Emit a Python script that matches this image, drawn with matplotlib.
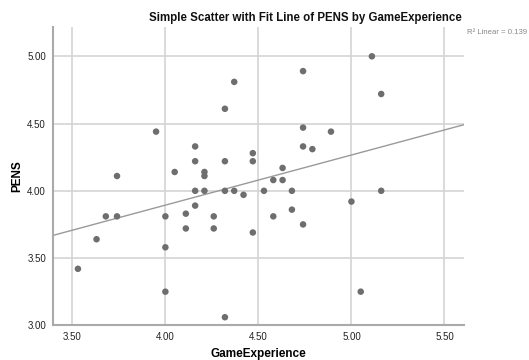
import numpy as np
import matplotlib
matplotlib.use("Agg")
import matplotlib.pyplot as plt

plt.rcParams['font.family'] = ['Liberation Sans', 'DejaVu Sans']

game_experience = [3.95, 4.37, 4.32, 4.74, 5.11, 5.16, 4.74, 4.89, 4.16, 4.74,
                   4.79, 4.47, 4.16, 4.32, 4.47, 4.63, 4.05, 4.21, 4.21, 3.74,
                   4.58, 4.63, 4.16, 4.21, 4.32, 4.37, 4.53, 4.68, 5.16, 4.42,
                   5.00, 4.16, 4.68, 4.11, 3.68, 3.74, 4.00, 4.26, 4.58, 4.74,
                   4.11, 4.26, 4.47, 3.63, 4.00, 3.53, 4.00, 5.05, 4.32]
pens = [4.44, 4.81, 4.61, 4.89, 5.00, 4.72, 4.47, 4.44, 4.33, 4.33,
        4.31, 4.28, 4.22, 4.22, 4.22, 4.17, 4.14, 4.14, 4.11, 4.11,
        4.08, 4.08, 4.00, 4.00, 4.00, 4.00, 4.00, 4.00, 4.00, 3.97,
        3.92, 3.89, 3.86, 3.83, 3.81, 3.81, 3.81, 3.81, 3.81, 3.75,
        3.72, 3.72, 3.69, 3.64, 3.58, 3.42, 3.25, 3.25, 3.06]
x_ticks = [3.50, 4.00, 4.50, 5.00, 5.50]
y_ticks = [3.00, 3.50, 4.00, 4.50, 5.00]
r2_label = "R² Linear = 0.139"

W, H = 529, 360
fig = plt.figure(figsize=(W / 100, H / 100), dpi=100)
ax = fig.add_axes([53 / W, (H - 325.3) / H, (464 - 53) / W, (325.3 - 27) / H])

xlim = (3.396, 5.605)
ylim = (3.0, 5.218)
ax.set_xlim(*xlim)
ax.set_ylim(*ylim)

ax.set_xticks(x_ticks)
ax.set_yticks(y_ticks)
ax.set_xticklabels([f"{v:.2f}" for v in x_ticks])
ax.set_yticklabels([f"{v:.2f}" for v in y_ticks])
ax.tick_params(length=0, labelsize=7, colors='#222222', pad=5)
ax.grid(True, color='#d4d4d4', linewidth=1.2)
ax.set_axisbelow(True)
for s in ['top', 'right']:
    ax.spines[s].set_visible(False)
for s in ['left', 'bottom']:
    ax.spines[s].set_color('#aaaaaa')
    ax.spines[s].set_linewidth(1.5)

x = np.array(game_experience)
y = np.array(pens)
slope, intercept = np.polyfit(x, y, 1)
xx = np.array(xlim)
ax.plot(xx, slope * xx + intercept, color='#9a9a9a', linewidth=1.0, zorder=2)

ax.scatter(x, y, s=22, color='#6e6e6e', edgecolors='none', zorder=3)

ax.set_xlabel("GameExperience", fontsize=8.5, fontweight='bold', labelpad=4)
ax.set_ylabel("PENS", fontsize=8.5, fontweight='bold', labelpad=3)

fig.text(462 / W, 1 - 18 / H, "Simple Scatter with Fit Line of PENS by GameExperience",
         ha='right', va='center', fontsize=8.3, fontweight='bold', color='#111111')
fig.text(467 / W, 1 - 33 / H, r2_label, ha='left', va='center', fontsize=5.6,
         color='#888888')

fig.savefig("out.png", dpi=100)
